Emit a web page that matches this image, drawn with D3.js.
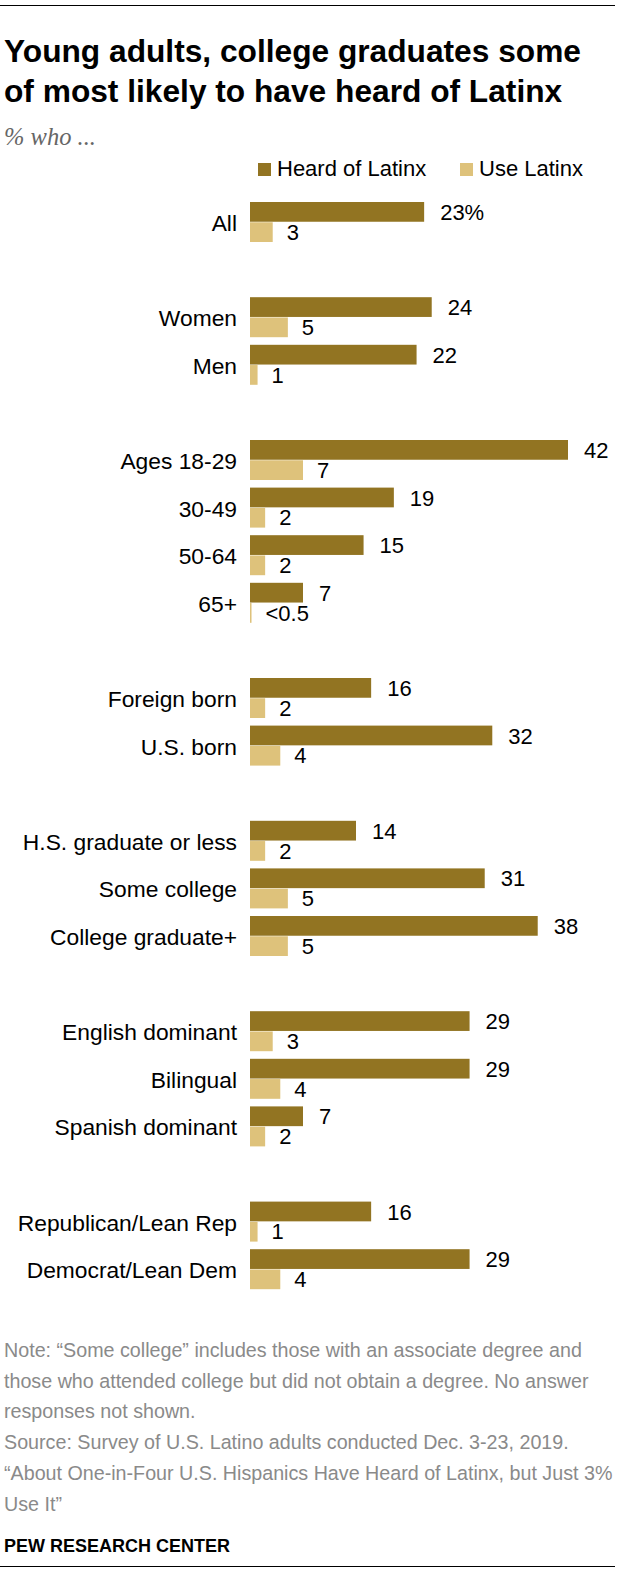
<!DOCTYPE html>
<html>
<head>
<meta charset="utf-8">
<script src="https://cdn.jsdelivr.net/npm/d3@7"></script>
<style>
  body { margin: 0; background: #fff; }
  text { font-family: "Liberation Sans", Arial, sans-serif; }
</style>
</head>
<body>
<div id="chart"></div>
<script>
// chart data
var categories = ["All", "Women", "Men", "Ages 18-29", "30-49", "50-64", "65+",
  "Foreign born", "U.S. born", "H.S. graduate or less", "Some college", "College graduate+",
  "English dominant", "Bilingual", "Spanish dominant", "Republican/Lean Rep", "Democrat/Lean Dem"];
var groupIdx = [0, 1, 1, 2, 2, 2, 2, 3, 3, 4, 4, 4, 5, 5, 5, 6, 6];
var heard = [23, 24, 22, 42, 19, 15, 7, 16, 32, 14, 31, 38, 29, 29, 7, 16, 29];
var heardText = ["23%", "24", "22", "42", "19", "15", "7", "16", "32", "14", "31", "38", "29", "29", "7", "16", "29"];
var useLx = [3, 5, 1, 7, 2, 2, 0.2, 2, 4, 2, 5, 5, 3, 4, 2, 1, 4];
var useText = ["3", "5", "1", "7", "2", "2", "<0.5", "2", "4", "2", "5", "5", "3", "4", "2", "1", "4"];
var seriesNames = ["Heard of Latinx", "Use Latinx"];
var colors = ["#927422", "#dec27b"];

var width = 620, height = 1570;
var svg = d3.select("#chart").append("svg")
  .attr("width", width)
  .attr("height", height);

// rules top and bottom
svg.append("line").attr("x1", 0).attr("x2", 615).attr("y1", 5.5).attr("y2", 5.5)
  .attr("stroke", "#000").attr("stroke-width", 1);
svg.append("line").attr("x1", 0).attr("x2", 615).attr("y1", 1566.5).attr("y2", 1566.5)
  .attr("stroke", "#000").attr("stroke-width", 1);

// title
var title = ["Young adults, college graduates some", "of most likely to have heard of Latinx"];
svg.selectAll(".title").data(title).enter().append("text")
  .attr("class", "title")
  .attr("x", 4)
  .attr("y", function(d, i) { return 62 + i * 40; })
  .attr("font-size", "31.7px")
  .attr("font-weight", "bold")
  .attr("fill", "#000")
  .text(function(d) { return d; });

svg.append("text")
  .attr("x", 4).attr("y", 145)
  .style("font-family", "'Liberation Serif', Georgia, serif")
  .attr("font-style", "italic")
  .attr("font-size", "24.5px")
  .attr("fill", "#666")
  .text("% who ...");

// legend
var legendX = [258, 460];
var lg = svg.selectAll(".legend").data(seriesNames).enter().append("g")
  .attr("class", "legend")
  .attr("transform", function(d, i) { return "translate(" + legendX[i] + ",163)"; });
lg.append("rect").attr("width", 13).attr("height", 13)
  .attr("fill", function(d, i) { return colors[i]; });
lg.append("text").attr("x", 19).attr("y", 13)
  .attr("font-size", "22px").attr("fill", "#000")
  .text(function(d) { return d; });

// scales
var xScale = d3.scaleLinear().domain([0, 42]).range([250, 568]);
var rowScale = d3.scaleLinear().domain([0, 22]).range([202, 202 + 22 * 47.6]);
var inner = d3.scaleBand().domain([0, 1]).range([0, 40]).paddingInner(0.025);

var rows = svg.selectAll(".row").data(categories).enter().append("g")
  .attr("class", "row")
  .attr("transform", function(d, i) { return "translate(0," + rowScale(i + groupIdx[i]) + ")"; });

rows.append("text")
  .attr("x", 237).attr("y", 29)
  .attr("text-anchor", "end")
  .attr("font-size", "22.8px")
  .attr("fill", "#000")
  .text(function(d) { return d; });

rows.append("rect")
  .attr("x", xScale(0))
  .attr("y", inner(0))
  .attr("width", function(d, i) { return xScale(heard[i]) - xScale(0); })
  .attr("height", inner.bandwidth())
  .attr("fill", colors[0]);

rows.append("rect")
  .attr("x", xScale(0))
  .attr("y", inner(1))
  .attr("width", function(d, i) { return xScale(useLx[i]) - xScale(0); })
  .attr("height", inner.bandwidth())
  .attr("fill", colors[1]);

rows.append("text")
  .attr("x", function(d, i) { return xScale(heard[i]) + 16; })
  .attr("y", inner(0) + 18)
  .attr("font-size", "22px").attr("fill", "#000")
  .text(function(d, i) { return heardText[i]; });

rows.append("text")
  .attr("x", function(d, i) { return xScale(useLx[i]) + 14; })
  .attr("y", inner(1) + 17.5)
  .attr("font-size", "22px").attr("fill", "#000")
  .text(function(d, i) { return useText[i]; });

// notes
var notes = [
  "Note: \u201cSome college\u201d includes those with an associate degree and",
  "those who attended college but did not obtain a degree. No answer",
  "responses not shown.",
  "Source: Survey of U.S. Latino adults conducted Dec. 3-23, 2019.",
  "\u201cAbout One-in-Four U.S. Hispanics Have Heard of Latinx, but Just 3%",
  "Use It\u201d"
];
svg.selectAll(".note").data(notes).enter().append("text")
  .attr("class", "note")
  .attr("x", 4)
  .attr("y", function(d, i) { return 1357 + i * 30.7; })
  .attr("font-size", "19.7px")
  .attr("fill", "#8a8a8a")
  .text(function(d) { return d; });

svg.append("text")
  .attr("x", 4).attr("y", 1552)
  .attr("font-size", "18px")
  .attr("font-weight", "bold")
  .attr("fill", "#000")
  .text("PEW RESEARCH CENTER");
</script>
</body>
</html>
